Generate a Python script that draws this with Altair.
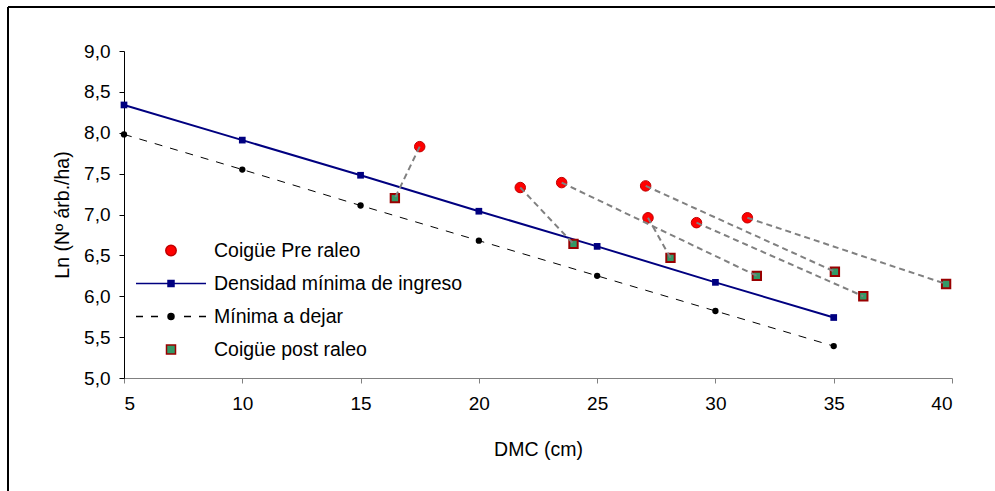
import altair as alt
import pandas as pd

# ---------------- data ----------------
dmc_ref = [5, 10, 15, 20, 25, 30, 35]
densidad_min_ingreso = [8.34, 7.91, 7.48, 7.04, 6.61, 6.17, 5.74]
minima_a_dejar = [7.98, 7.55, 7.11, 6.68, 6.25, 5.82, 5.39]

pre_dmc = [17.5, 21.75, 23.5, 27.05, 27.15, 29.2, 31.35]
pre_ln = [7.83, 7.33, 7.39, 7.35, 6.96, 6.90, 6.96]
post_dmc = [16.45, 24.0, 31.75, 35.05, 28.1, 36.25, 39.75]
post_ln = [7.20, 6.64, 6.25, 6.30, 6.47, 6.00, 6.15]

series_names = ["Coigüe Pre raleo", "Densidad mínima de ingreso",
                "Mínima a dejar", "Coigüe post raleo"]
x_ticks = [5, 10, 15, 20, 25, 30, 35, 40]
y_ticks = [5.0, 5.5, 6.0, 6.5, 7.0, 7.5, 8.0, 8.5, 9.0]

# ---------------- tables ----------------
ref_df = pd.DataFrame({"dmc": dmc_ref, "dens": densidad_min_ingreso, "mini": minima_a_dejar})
pre_df = pd.DataFrame({"dmc": pre_dmc, "ln": pre_ln})
post_df = pd.DataFrame({"dmc": post_dmc, "ln": post_ln})
pair_df = pd.DataFrame({"x1": pre_dmc, "y1": pre_ln, "x2": post_dmc, "y2": post_ln})
legend_df = pd.DataFrame({"serie": series_names})
one_df = pd.DataFrame({"a": [0]})

FONT = "Liberation Sans"
W, H = 828, 327

xscale = alt.Scale(domain=[5, 40], nice=False, zero=False)
yscale = alt.Scale(domain=[5, 9], nice=False, zero=False)

xaxis = alt.Axis(values=x_ticks, grid=False, tickSize=5, tickColor="#808080",
                 domainColor="#808080", labelFont=FONT, labelFontSize=19,
                 labelColor="black", labelPadding=11, title="DMC (cm)",
                 titleFont=FONT, titleFontSize=19.5, titleFontWeight="normal",
                 titleColor="black", titlePadding=27)
yaxis = alt.Axis(values=y_ticks, grid=False, tickSize=5, tickColor="black",
                 domainColor="black", labelFont=FONT, labelFontSize=19,
                 labelColor="black", labelPadding=9,
                 labelExpr="replace(format(datum.value, '.1f'), '.', ',')",
                 title="Ln (Nº árb./ha)", titleFont=FONT, titleFontSize=19.5,
                 titleFontWeight="normal", titleColor="black", titlePadding=11)

X = lambda f: alt.X(f, type="quantitative", scale=xscale, axis=xaxis)
Y = lambda f: alt.Y(f, type="quantitative", scale=yscale, axis=yaxis)

# frame (only top and left edges visible in the reference)
frame_left = alt.Chart(one_df).mark_rule(color="black", strokeWidth=2).encode(
    x=alt.value(-116), y=alt.value(-44), y2=alt.value(H + 113))
frame_top = alt.Chart(one_df).mark_rule(color="black", strokeWidth=2).encode(
    x=alt.value(-116), x2=alt.value(W + 43), y=alt.value(-44))

min_line = alt.Chart(ref_df).mark_line(color="black", strokeWidth=1, strokeDash=[8, 8]).encode(
    x=X("dmc"), y=Y("mini"))
min_pts = alt.Chart(ref_df).mark_point(shape="circle", filled=True, color="black",
                                       size=40, opacity=1).encode(x=X("dmc"), y=Y("mini"))
dens_line = alt.Chart(ref_df).mark_line(color="#000080", strokeWidth=2).encode(
    x=X("dmc"), y=Y("dens"))
dens_pts = alt.Chart(ref_df).mark_point(shape="square", filled=True, color="#000080",
                                        size=45, opacity=1).encode(x=X("dmc"), y=Y("dens"))

pre_pts = alt.Chart(pre_df).mark_point(shape="circle", filled=True, fill="#FF0000",
                                       stroke="#C00000", strokeWidth=1, size=110,
                                       opacity=1).encode(x=X("dmc"), y=Y("ln"))
post_pts = alt.Chart(post_df).mark_point(shape="square", filled=True, fill="#339966",
                                         stroke="#990000", strokeWidth=2, size=70,
                                         opacity=1).encode(x=X("dmc"), y=Y("ln"))

pairs = alt.Chart(pair_df).mark_rule(color="#808080", strokeWidth=2, strokeDash=[6, 4]).encode(
    x=X("x1"), y=Y("y1"), x2="x2", y2="y2")

# legend symbols: custom paths (unit = 10 px at symbolSize 400)
circ = lambda r: f"M{r},0A{r},{r},0,1,1,-{r},0A{r},{r},0,1,1,{r},0Z"
sym_pre = circ(0.52)
sym_dens = "M-3.5,0H3.5M-0.3,-0.3H0.3V0.3H-0.3Z"
sym_min = "M-3.5,0H-2.8M-2.0,0H-1.3M1.3,0H2.0M2.8,0H3.5" + circ(0.3)
sym_post = "M-0.45,-0.45H0.45V0.45H-0.45Z"

leg = alt.Legend(title=None, orient="none", legendX=36, legendY=188.5, padding=0,
                 rowPadding=12, labelOffset=32, labelFont=FONT, labelFontSize=19.5,
                 labelColor="black", labelLimit=0, symbolSize=400,
                 symbolStrokeWidth=1.5, symbolOpacity=1)

legend_layer = alt.Chart(legend_df).mark_point(filled=True, opacity=0).encode(
    fill=alt.Fill("serie:N", scale=alt.Scale(domain=series_names,
                  range=["#FF0000", "#000080", "#000000", "#339966"]), legend=leg),
    stroke=alt.Stroke("serie:N", scale=alt.Scale(domain=series_names,
                      range=["#C00000", "#000080", "#000000", "#990000"]), legend=leg),
    shape=alt.Shape("serie:N", scale=alt.Scale(domain=series_names,
                    range=[sym_pre, sym_dens, sym_min, sym_post]), legend=leg),
)

chart = alt.layer(
    frame_left, frame_top, min_line, min_pts, dens_line, dens_pts,
    pre_pts, post_pts, pairs, legend_layer
).properties(
    width=W, height=H,
    padding={"left": 124, "top": 51, "right": 43, "bottom": 113},
    autosize=alt.AutoSizeParams(type="none"),
    background="white",
).configure_view(stroke=None)

chart.save("out.html", embed_options={"renderer": "svg", "actions": False})
